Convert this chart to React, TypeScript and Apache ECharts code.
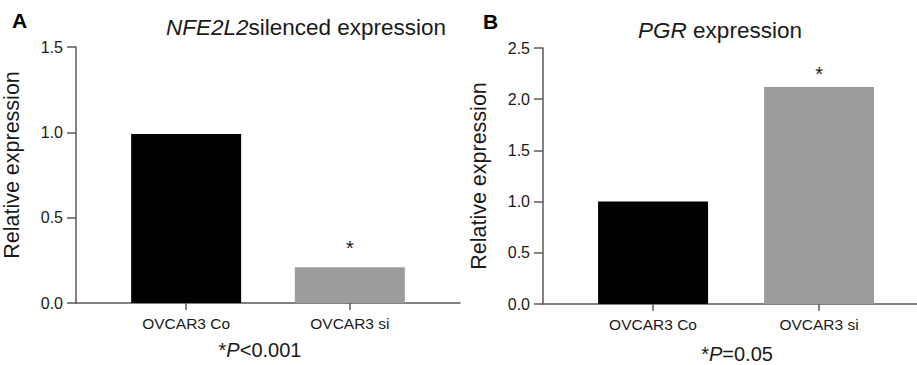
import React, { useEffect, useRef } from "react";
import * as echarts from "echarts";

const categories = ["OVCAR3 Co", "OVCAR3 si"];
const nfe2l2Values = [0.99, 0.21];
const pgrValues = [1.0, 2.12];
const barColors = ["#000000", "#9c9c9c"];
const starredA = [false, true];
const starredB = [false, true];
const yTicksA = { min: 0, max: 1.5, interval: 0.5 };
const yTicksB = { min: 0, max: 2.5, interval: 0.5 };
const yName = "Relative expression";
const pNoteA = "<0.001";
const pNoteB = "=0.05";

const FONT = "'Liberation Sans', Arial, Helvetica, sans-serif";
const AXIS_COLOR = "#5a5a5a";
const TEXT_COLOR = "#1a1a1a";

function makeXAxis(gridIndex: number, min: number, max: number) {
  return {
    type: "value",
    gridIndex,
    min,
    max,
    axisLine: { show: true, onZero: false, lineStyle: { color: AXIS_COLOR, width: 1.5 } },
    axisTick: { show: true, customValues: [0, 1], length: 7, lineStyle: { color: AXIS_COLOR, width: 1.5 } },
    axisLabel: {
      show: true,
      customValues: [0, 1],
      formatter: (v: number) => categories[Math.round(v)] ?? "",
      fontSize: 15.5,
      color: TEXT_COLOR,
      fontFamily: FONT,
      margin: 12,
    },
    splitLine: { show: false },
  };
}

function makeYAxis(gridIndex: number, t: { min: number; max: number; interval: number }, namePadding: number[]) {
  return {
    type: "value",
    gridIndex,
    min: t.min,
    max: t.max,
    interval: t.interval,
    name: yName,
    nameLocation: "middle",
    nameGap: 53,
    nameTextStyle: { fontSize: 21.5, color: TEXT_COLOR, fontFamily: FONT, padding: namePadding },
    axisLine: { show: true, onZero: false, lineStyle: { color: AXIS_COLOR, width: 1.5 } },
    axisTick: { show: true, length: 9, lineStyle: { color: AXIS_COLOR, width: 1.5 } },
    axisLabel: {
      formatter: (v: number) => v.toFixed(1),
      fontSize: 16,
      color: TEXT_COLOR,
      fontFamily: FONT,
      margin: 13,
    },
    splitLine: { show: false },
  };
}

function makeSeries(idx: number, values: number[], starred: boolean[], starDist: number) {
  return {
    type: "bar",
    xAxisIndex: idx,
    yAxisIndex: idx,
    barWidth: 110,
    data: values.map((v, i) => ({
      value: [i, v],
      itemStyle: { color: barColors[i] },
      label: starred[i]
        ? { show: true, position: "top", formatter: "*", fontSize: 20, color: TEXT_COLOR, fontFamily: FONT, distance: starDist }
        : { show: false },
    })),
  };
}

export default function App() {
  const ref = useRef<HTMLDivElement>(null);
  useEffect(() => {
    document.body.style.margin = "0";
    if (!ref.current) return;
    const chart = echarts.init(ref.current, undefined, { renderer: "svg" });
    chart.setOption({
      animation: false,
      backgroundColor: "#ffffff",
      grid: [
        { left: 73, top: 47, width: 387, height: 256 },
        { left: 543, top: 48, width: 374, height: 256 },
      ],
      xAxis: [makeXAxis(0, -0.6727, 1.6727), makeXAxis(1, -0.663, 1.59)],
      yAxis: [makeYAxis(0, yTicksA, [0, 0, 0, 20]), makeYAxis(1, yTicksB, [0, 0, 0, 0])],
      series: [makeSeries(0, nfe2l2Values, starredA, 9), makeSeries(1, pgrValues, starredB, 3)],
      graphic: [
        {
          type: "text",
          x: 12,
          y: 20,
          style: { text: "A", font: `bold 21px ${FONT}`, fill: "#000", textVerticalAlign: "middle" },
        },
        {
          type: "text",
          x: 483,
          y: 21,
          style: { text: "B", font: `bold 21px ${FONT}`, fill: "#000", textVerticalAlign: "middle" },
        },
        {
          type: "text",
          x: 306,
          y: 27,
          style: {
            text: "{i|NFE2L2}silenced expression",
            font: `22.5px ${FONT}`,
            fill: TEXT_COLOR,
            textAlign: "center",
            textVerticalAlign: "middle",
            rich: { i: { fontStyle: "italic", fontSize: 22.5, fontFamily: FONT, fill: TEXT_COLOR } },
          },
        },
        {
          type: "text",
          x: 720,
          y: 30,
          style: {
            text: "{i|PGR} expression",
            font: `22.5px ${FONT}`,
            fill: TEXT_COLOR,
            textAlign: "center",
            textVerticalAlign: "middle",
            rich: { i: { fontStyle: "italic", fontSize: 22.5, fontFamily: FONT, fill: TEXT_COLOR } },
          },
        },
        {
          type: "text",
          x: 260,
          y: 350,
          style: {
            text: "*{i|P}" + pNoteA,
            font: `20px ${FONT}`,
            fill: TEXT_COLOR,
            textAlign: "center",
            textVerticalAlign: "middle",
            rich: { i: { fontStyle: "italic", fontSize: 20, fontFamily: FONT, fill: TEXT_COLOR } },
          },
        },
        {
          type: "text",
          x: 737,
          y: 354,
          style: {
            text: "*{i|P}" + pNoteB,
            font: `20px ${FONT}`,
            fill: TEXT_COLOR,
            textAlign: "center",
            textVerticalAlign: "middle",
            rich: { i: { fontStyle: "italic", fontSize: 20, fontFamily: FONT, fill: TEXT_COLOR } },
          },
        },
      ],
    });
    return () => chart.dispose();
  }, []);
  return <div ref={ref} style={{ width: 917, height: 365 }} />;
}
